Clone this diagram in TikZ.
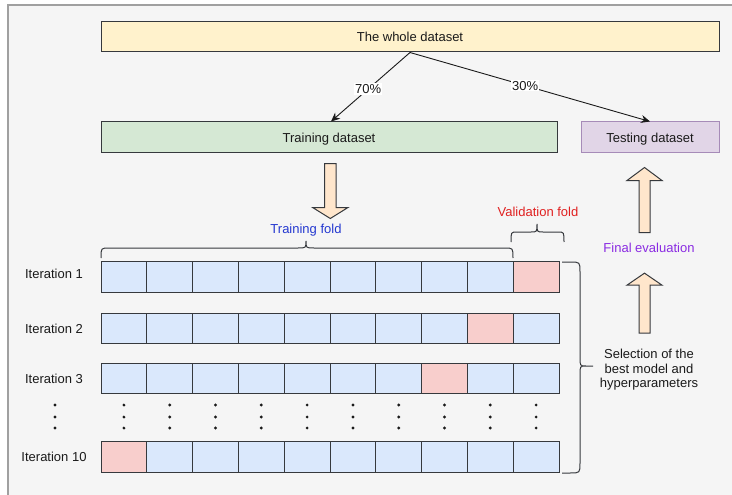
\documentclass[tikz,border=0pt]{standalone}
\usepackage{fontspec}
\setmainfont{Liberation Sans}
\usetikzlibrary{arrows.meta,calc}
\definecolor{ink}{HTML}{1A1A1A}
\definecolor{edge}{HTML}{36393D}
\definecolor{panel}{HTML}{F5F5F5}
\definecolor{panelline}{HTML}{A0A0A0}
\definecolor{yellowfill}{HTML}{FFF2CC}
\definecolor{greenfill}{HTML}{D5E8D4}
\definecolor{purplefill}{HTML}{E1D5E7}
\definecolor{purpleedge}{HTML}{A68BB8}
\definecolor{bluefill}{HTML}{DAE8FC}
\definecolor{redfill}{HTML}{F8CECC}
\definecolor{orangefill}{HTML}{FFE6CC}
\definecolor{foldblue}{HTML}{2438D0}
\definecolor{foldred}{HTML}{E02020}
\definecolor{evalpurple}{HTML}{8A2BE2}
\begin{document}
\begin{tikzpicture}[x=1pt,y=-1pt,
  every node/.style={font=\fontsize{13}{15}\selectfont, text=ink},
  lbl/.style={inner sep=0pt, text height=9.3pt, text depth=0pt},
  box/.style={lbl, draw=edge, line width=1pt},
  cell/.style={draw=edge, line width=1pt, minimum width=45.8pt,
    minimum height=30.5pt, inner sep=0pt, outer sep=0pt},
  link/.style={draw=ink, line width=0.9pt, -{Stealth[length=9pt,width=8pt]}},
  pct/.style={lbl, fill=white, inner sep=1pt},
  bigarrow/.style={fill=orangefill, draw=edge, line width=1pt, line join=miter},
  brace/.style={draw=edge, line width=1pt},
  dot/.style={fill=ink}]

% canvas and grey panel
\useasboundingbox (0,0) rectangle (732,495);
\fill[white] (0,0) rectangle (732,495);
\draw[fill=panel, draw=panelline, line width=1.5pt] (8,5) rectangle (745,505);

% dataset boxes
\node[box, fill=yellowfill, minimum width=618pt, minimum height=30pt] (whole) at (410,37) {The whole dataset};
\node[box, fill=greenfill, minimum width=456pt, minimum height=31pt] (train) at (329,137.5) {Training dataset};
\node[box, fill=purplefill, draw=purpleedge, minimum width=138pt, minimum height=31pt] (test) at (650,137.5) {Testing dataset};

% split of the data
\draw[link] (whole.south) -- node[pct, pos=0.53] {70\%} ($(train.north)+(2,0)$);
\draw[link] (whole.south) -- node[pct, pos=0.48] {30\%} (test.north);

% folds of the ten iterations
\foreach \r/\yy/\v in {1/277/10, 2/328.5/9, 3/378.5/8, 10/457/1}{
  \foreach \i in {1,...,10}{
    \ifnum\i=\v \def\cf{redfill}\else\def\cf{bluefill}\fi
    \node[cell, fill=\cf] (c\r-\i) at ({101+(\i-0.5)*45.8},\yy) {};
  }
}

% iteration labels
\node[lbl] (it1) at (54,273.5) {Iteration 1};
\node[lbl] (it2) at (54,328.5) {Iteration 2};
\node[lbl] (it3) at (54,379) {Iteration 3};
\node[lbl] (it10) at (54,457) {Iteration 10};

% vertical ellipses
\foreach \yy in {405,417,428}{
  \fill[dot] (55,\yy) circle (1.6pt);
  \foreach \i in {1,...,10}{
    \fill[dot] ({101+(\i-0.5)*45.8},\yy) circle (1.6pt);
  }
}

% fold captions and braces
\node[lbl, text=foldblue] (trfold) at (306,229) {Training fold};
\node[lbl, text=foldred] (vafold) at (538,212) {Validation fold};
\draw[brace] (101,258) .. controls (101,248) .. (109,248) -- (298,248)
  .. controls (306,248) .. (306,241) .. controls (306,248) .. (314,248)
  -- (505,248) .. controls (513,248) .. (513,258);
\draw[brace] (511,242) .. controls (511,232) .. (517,232) -- (531,232)
  .. controls (537,232) .. (537,224) .. controls (537,232) .. (543,232)
  -- (558,232) .. controls (564,232) .. (564,242);
\draw[brace] (562,262) -- (570,262) .. controls (580,262) .. (580,272)
  -- (580,357) .. controls (580,366) .. (586,366) -- (593,366)
  (586,366) .. controls (580,366) .. (580,375)
  -- (580,463) .. controls (580,473) .. (570,473) -- (562,473);

% selection and final evaluation
\node[align=center, inner sep=0pt, font=\fontsize{13}{14.5}\selectfont] (sel) at (649,370)
  {Selection of the\\best model and\\hyperparameters};
\node[lbl, text=evalpurple] (final) at (649,248) {Final evaluation};

% block arrows
\coordinate (dtop) at ($(train.south)+(1.3,10)$);
\draw[bigarrow] ($(dtop)+(-5.7,0)$) -- ($(dtop)+(5.7,0)$) -- ($(dtop)+(5.7,44)$)
  -- ($(dtop)+(17.7,44)$) -- ($(dtop)+(0,55)$) -- ($(dtop)+(-17.7,44)$)
  -- ($(dtop)+(-5.7,44)$) -- cycle;
\coordinate (utip) at ($(test.south)+(-5.5,14)$);
\draw[bigarrow] (utip) -- ($(utip)+(17.5,13)$) -- ($(utip)+(5.5,13)$) -- ($(utip)+(5.5,65)$)
  -- ($(utip)+(-5.5,65)$) -- ($(utip)+(-5.5,13)$) -- ($(utip)+(-17.5,13)$) -- cycle;
\coordinate (ltip) at ($(final.south)+(-4.5,20.3)$);
\draw[bigarrow] (ltip) -- ($(ltip)+(17.5,12)$) -- ($(ltip)+(5.5,12)$) -- ($(ltip)+(5.5,60)$)
  -- ($(ltip)+(-5.5,60)$) -- ($(ltip)+(-5.5,12)$) -- ($(ltip)+(-17.5,12)$) -- cycle;
\end{tikzpicture}
\end{document}
